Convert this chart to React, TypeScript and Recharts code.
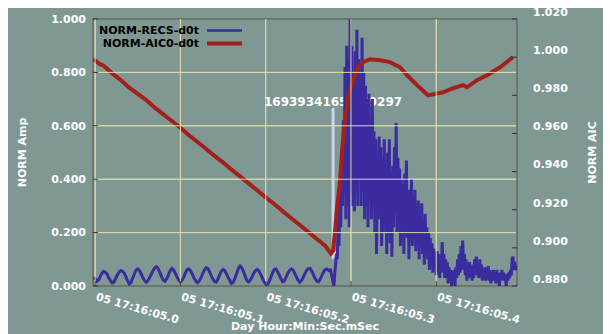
import { LineChart, Line, XAxis, YAxis, CartesianGrid, ReferenceLine } from 'recharts';

// x axis: seconds after 17:16:05.0
const xTicks = [0, 0.1, 0.2, 0.3, 0.4];
const xTickLabels = ['05 17:16:05.0', '05 17:16:05.1', '05 17:16:05.2', '05 17:16:05.3', '05 17:16:05.4'];
const ampTicks = [0, 0.2, 0.4, 0.6, 0.8, 1.0];
const aicTicks = [0.88, 0.9, 0.92, 0.94, 0.96, 0.98, 1.0, 1.02];

const seriesNames = ['NORM-RECS-d0t', 'NORM-AIC0-d0t'];

// NORM-RECS-d0t before the pick, one sample every 2 ms from -0.002 s
const quietStart = -0.002;
const quietStep = 0.002;
const quietAmp = [
  0.030, 0.028, 0.018, 0.022, 0.035, 0.048, 0.055, 0.052, 0.045, 0.030,
  0.020, 0.012, 0.015, 0.028, 0.040, 0.052, 0.058, 0.055, 0.048, 0.035,
  0.020, 0.008, 0.012, 0.030, 0.045, 0.060, 0.064, 0.058, 0.045, 0.032,
  0.020, 0.014, 0.020, 0.032, 0.045, 0.058, 0.068, 0.072, 0.064, 0.050,
  0.034, 0.022, 0.018, 0.028, 0.042, 0.058, 0.066, 0.060, 0.048, 0.034,
  0.022, 0.016, 0.022, 0.034, 0.050, 0.062, 0.064, 0.056, 0.044, 0.030,
  0.018, 0.012, 0.018, 0.030, 0.045, 0.060, 0.068, 0.066, 0.055, 0.040,
  0.026, 0.016, 0.015, 0.026, 0.042, 0.056, 0.062, 0.058, 0.046, 0.032,
  0.020, 0.010, 0.014, 0.030, 0.048, 0.066, 0.075, 0.068, 0.054, 0.036,
  0.020, 0.015, 0.022, 0.034, 0.048, 0.058, 0.062, 0.056, 0.044, 0.030,
  0.016, 0.008, 0.006, 0.016, 0.032, 0.048, 0.062, 0.064, 0.054, 0.040,
  0.026, 0.016, 0.020, 0.034, 0.048, 0.058, 0.064, 0.060, 0.048, 0.034,
  0.022, 0.014, 0.020, 0.032, 0.046, 0.058, 0.064, 0.066, 0.056, 0.042,
  0.028, 0.018, 0.016, 0.026, 0.040, 0.054, 0.062, 0.064, 0.058, 0.060,
  0.030,
];

// NORM-RECS-d0t from the pick on, one sample every 1 ms from 0.280 s
const burstStart = 0.28;
const burstStep = 0.001;
const burstAmp = [
  0.000, 0.050, 0.080, 0.120, 0.100, 0.250, 0.150, 0.350, 0.220, 0.500,
  0.300, 0.620, 0.350, 0.820, 0.250, 0.900, 0.300, 0.850, 0.220, 1.000,
  0.350, 0.900, 0.300, 0.800, 0.280, 0.880, 0.350, 0.960, 0.300, 0.850,
  0.400, 0.780, 0.300, 0.930, 0.350, 0.800, 0.250, 0.750, 0.300, 0.700,
  0.220, 0.720, 0.350, 0.620, 0.250, 0.700, 0.300, 0.580, 0.200, 0.550,
  0.120, 0.500, 0.250, 0.560, 0.300, 0.520, 0.150, 0.480, 0.200, 0.550,
  0.250, 0.450, 0.120, 0.500, 0.200, 0.550, 0.160, 0.420, 0.110, 0.450,
  0.220, 0.520, 0.280, 0.610, 0.200, 0.480, 0.300, 0.440, 0.150, 0.400,
  0.200, 0.380, 0.120, 0.420, 0.250, 0.470, 0.180, 0.350, 0.100, 0.360,
  0.200, 0.400, 0.150, 0.330, 0.220, 0.360, 0.130, 0.300, 0.180, 0.320,
  0.100, 0.280, 0.160, 0.310, 0.120, 0.250, 0.080, 0.270, 0.140, 0.220,
  0.100, 0.200, 0.060, 0.180, 0.080, 0.160, 0.050, 0.140, 0.090, 0.120,
  0.040, 0.130, 0.060, 0.120, 0.030, 0.100, 0.050, 0.165, 0.060, 0.120,
  0.030, 0.100, 0.050, 0.090, 0.010, 0.070, 0.030, 0.060, 0.000, 0.050,
  0.020, 0.060, 0.000, 0.070, 0.030, 0.100, 0.040, 0.120, 0.050, 0.150,
  0.060, 0.170, 0.080, 0.120, 0.040, 0.100, 0.020, 0.080, 0.030, 0.090,
  0.040, 0.070, 0.020, 0.080, 0.030, 0.100, 0.050, 0.110, 0.040, 0.090,
  0.030, 0.100, 0.040, 0.080, 0.020, 0.060, 0.030, 0.070, 0.020, 0.060,
  0.030, 0.075, 0.020, 0.060, 0.010, 0.050, 0.020, 0.060, 0.030, 0.050,
  0.010, 0.060, 0.020, 0.045, 0.000, 0.050, 0.030, 0.060, 0.020, 0.050,
  0.030, 0.045, 0.000, 0.040, 0.020, 0.050, 0.030, 0.060, 0.040, 0.100,
  0.110, 0.060, 0.090, 0.060, 0.075,
];

// NORM-AIC0-d0t (right axis)
const aicTime = [
  -0.002, 0.005, 0.010, 0.020, 0.030, 0.040, 0.050, 0.060, 0.070, 0.080,
  0.090, 0.100, 0.110, 0.120, 0.130, 0.140, 0.150, 0.160, 0.170, 0.180,
  0.190, 0.200, 0.210, 0.220, 0.230, 0.240, 0.250, 0.260, 0.270, 0.2765,
  0.279, 0.2814, 0.2837, 0.2872, 0.2896, 0.2931, 0.2966, 0.3025, 0.3083, 0.3142,
  0.3224, 0.3341, 0.3458, 0.3576, 0.3658, 0.3775, 0.3904, 0.3962, 0.4080, 0.4197,
  0.4314, 0.4361, 0.4478, 0.4596, 0.4748, 0.4900,
];
const aicValue = [
  0.9990, 0.9965, 0.9955, 0.9915, 0.9880, 0.9840, 0.9808, 0.9775, 0.9735, 0.9700,
  0.9665, 0.9630, 0.9590, 0.9555, 0.9520, 0.9482, 0.9448, 0.9410, 0.9375, 0.9338,
  0.9302, 0.9265, 0.9230, 0.9192, 0.9155, 0.9120, 0.9083, 0.9046, 0.9010, 0.8970,
  0.8984, 0.9089, 0.9211, 0.9353, 0.9511, 0.9668, 0.9789, 0.9879, 0.9947, 0.9974,
  0.9989, 0.9984, 0.9974, 0.9947, 0.9905, 0.9853, 0.9800, 0.9805, 0.9816, 0.9837,
  0.9853, 0.9842, 0.9879, 0.9905, 0.9947, 1.0000,
];

// pick marker
const pickTime = 0.279;
const pickLabel = '1693934165.279297';
const pickTop = 0.667;
const pickTip = 0.097;

const FONT = '"DejaVu Sans", sans-serif';
const BG = '#7f9894';
const GRID = '#d8d9a8';
const AXIS = '#333333';
const BLUE = '#3a2c9e';
const RED = '#a3211a';
const ARROW = '#c9d4f0';

// layout
const CHART_W = 604;
const CHART_H = 328;
const TOP = 13;
const LEFT_W = 86;
const RIGHT_W = 94;
const BOTTOM_H = 48;
const PLOT_W = CHART_W - LEFT_W - RIGHT_W;
const PLOT_H = CHART_H - TOP - BOTTOM_H;

const recsData = [
  ...quietAmp.map((v, i) => ({ t: quietStart + i * quietStep, v })),
  ...burstAmp.map((v, i) => ({ t: burstStart + i * burstStep, v })),
];
const aicData = aicTime.map((t, i) => ({ t, v: aicValue[i] }));

const textStyle = { fill: '#ffffff', fontSize: 11, fontWeight: 'bold', fontFamily: FONT } as const;

// vertical grid line + inward tick + rotated label
function XTick({ x, y, payload }: any) {
  const label = xTickLabels[xTicks.indexOf(payload.value)];
  return (
    <g>
      <line x1={x} y1={y - 1} x2={x} y2={y - PLOT_H} stroke={GRID} />
      <line x1={x} y1={y} x2={x} y2={y - 5} stroke={AXIS} />
      <text x={x} y={y + 14} transform={`rotate(16, ${x}, ${y + 14})`} {...textStyle}>
        {label}
      </text>
    </g>
  );
}

// horizontal grid line + inward tick + label
function AmpTick({ x, y, payload }: any) {
  const inner = payload.value > 0 && payload.value < 1;
  return (
    <g>
      {inner && <line x1={x + 1} y1={y} x2={x + PLOT_W - 1} y2={y} stroke={GRID} />}
      <line x1={x} y1={y} x2={x + 5} y2={y} stroke={AXIS} />
      <text x={x - 7} y={y} dy="0.35em" textAnchor="end" {...textStyle}>
        {payload.value.toFixed(3)}
      </text>
    </g>
  );
}

function AicTick({ x, y, payload }: any) {
  return (
    <g>
      <line x1={x} y1={y} x2={x - 5} y2={y} stroke={AXIS} />
      <text x={x + 16} y={y - 7} dy="0.35em" textAnchor="start" {...textStyle}>
        {payload.value.toFixed(3)}
      </text>
    </g>
  );
}

function PickArrow({ x1, y1, y2 }: any) {
  return (
    <g>
      <text x={x1} y={y1 - 2} textAnchor="middle" {...textStyle} fontSize={12}>
        {pickLabel}
      </text>
      <line x1={x1} y1={y1} x2={x1} y2={y2 - 8} stroke={ARROW} strokeWidth={3} />
      <polygon points={`${x1 - 5},${y2 - 9} ${x1 + 5},${y2 - 9} ${x1},${y2}`} fill={ARROW} />
    </g>
  );
}

function LegendBox() {
  const colors = [BLUE, RED];
  const widths = [2.5, 4];
  return (
    <div
      style={{
        position: 'absolute',
        left: 88,
        top: 18,
        fontFamily: FONT,
        fontSize: 11,
        fontWeight: 'bold',
        color: '#000',
      }}
    >
      {seriesNames.map((name, i) => (
        <div key={name} style={{ display: 'flex', alignItems: 'center', height: 13 }}>
          <span style={{ width: 104, textAlign: 'right' }}>{name}</span>
          <svg width={43} height={13}>
            <line x1={8} y1={6.5} x2={43} y2={6.5} stroke={colors[i]} strokeWidth={widths[i]} />
          </svg>
        </div>
      ))}
    </div>
  );
}

export default function App() {
  return (
    <div style={{ position: 'relative', width: CHART_W, height: CHART_H, background: BG, marginLeft: -1, marginTop: -2 }}>
      <LineChart width={CHART_W} height={CHART_H} margin={{ top: TOP, right: 0, bottom: 0, left: 0 }}>
        <CartesianGrid stroke={GRID} />
        <XAxis
          type="number"
          dataKey="t"
          domain={[-0.0025, 0.4947]}
          allowDataOverflow
          ticks={xTicks}
          tick={<XTick />}
          tickLine={false}
          tickSize={0}
          tickMargin={0}
          axisLine={{ stroke: AXIS }}
          height={BOTTOM_H}
          label={{
            content: ({ viewBox }: any) => (
              <text x={viewBox.x + viewBox.width / 2} y={viewBox.y + 44} textAnchor="middle" {...textStyle}>
                Day Hour:Min:Sec.mSec
              </text>
            ),
          }}
        />
        <YAxis
          domain={[0, 1]}
          ticks={ampTicks}
          tick={<AmpTick />}
          tickLine={false}
          tickSize={0}
          tickMargin={0}
          axisLine={{ stroke: AXIS }}
          width={LEFT_W}
          label={{
            content: ({ viewBox }: any) => {
              const cx = viewBox.x + 15;
              const cy = viewBox.y + viewBox.height / 2;
              return (
                <text x={cx} y={cy} transform={`rotate(-90, ${cx}, ${cy})`} textAnchor="middle" dy="0.35em" {...textStyle}>
                  NORM Amp
                </text>
              );
            },
          }}
        />
        <YAxis
          yAxisId="aic"
          orientation="right"
          domain={[0.88, 1.02]}
          ticks={aicTicks}
          tick={<AicTick />}
          tickLine={false}
          tickSize={0}
          tickMargin={0}
          axisLine={{ stroke: AXIS }}
          width={RIGHT_W}
          label={{
            content: ({ viewBox }: any) => {
              const cx = viewBox.x + 75;
              const cy = viewBox.y + viewBox.height / 2;
              return (
                <text x={cx} y={cy} transform={`rotate(-90, ${cx}, ${cy})`} textAnchor="middle" dy="0.35em" {...textStyle}>
                  NORM AIC
                </text>
              );
            },
          }}
        />
        <ReferenceLine y={1} stroke={AXIS} />
        <ReferenceLine
          segment={[{ x: pickTime, y: pickTop }, { x: pickTime, y: pickTip }]}
          shape={<PickArrow />}
        />
        <Line
          data={recsData}
          dataKey="v"
          name={seriesNames[0]}
          stroke={BLUE}
          strokeWidth={3}
          dot={false}
          type="linear"
          isAnimationActive={false}
        />
        <Line
          yAxisId="aic"
          data={aicData}
          dataKey="v"
          name={seriesNames[1]}
          stroke={RED}
          strokeWidth={4}
          dot={false}
          type="linear"
          isAnimationActive={false}
        />
      </LineChart>
      <LegendBox />
    </div>
  );
}
